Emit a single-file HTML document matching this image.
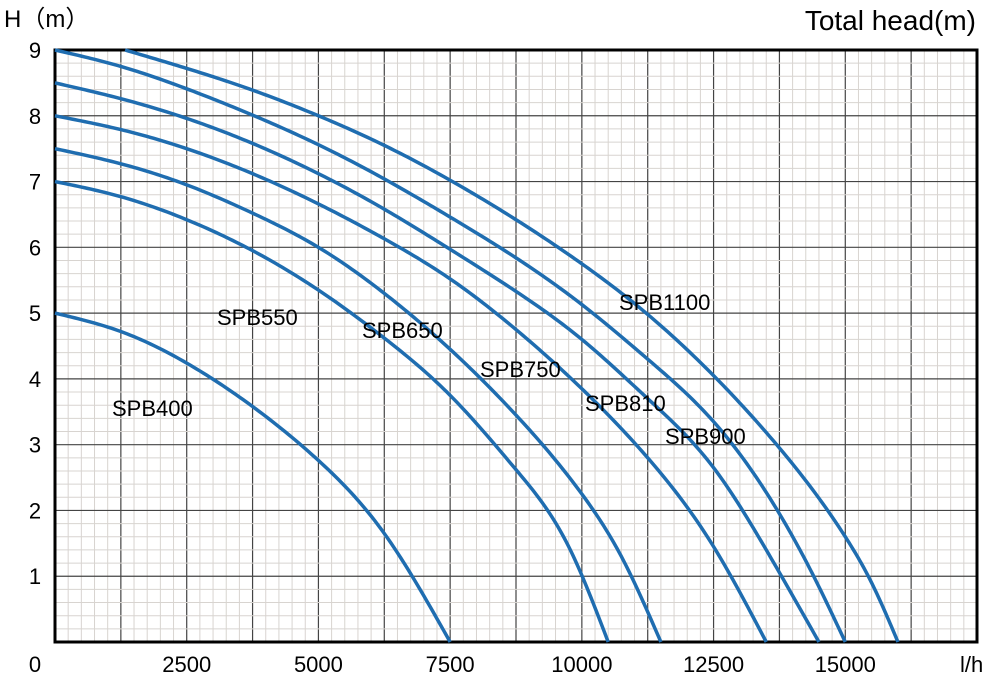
<!DOCTYPE html>
<html><head><meta charset="utf-8"><style>
body{margin:0;background:#fff;width:1000px;height:684px;overflow:hidden}
svg{display:block;font-family:"Liberation Sans",Arial,sans-serif}
</style></head><body>
<svg id="c" width="1000" height="684"></svg>
<script>
const xTicks=[0,2500,5000,7500,10000,12500,15000];
const yTicks=[1,2,3,4,5,6,7,8,9];
const seriesNames=["SPB400","SPB550","SPB650","SPB750","SPB810","SPB900","SPB1100"];
const q400=[0,1250,2500,3750,5000,6250,7500];
const h400=[5,4.72,4.24,3.58,2.76,1.65,0];
const q550=[0,1250,2500,3750,5000,6250,7500,8750,9750,10500];
const h550=[7,6.77,6.42,5.95,5.35,4.62,3.75,2.62,1.45,0];
const q650=[0,1250,2500,3750,5000,6250,7500,8750,10000,10750,11500];
const h650=[7.5,7.27,6.95,6.52,6.0,5.3,4.45,3.45,2.25,1.3,0];
const q750=[0,1250,2500,3750,5000,6250,7500,8750,10000,11250,12500,13500];
const h750=[8,7.79,7.5,7.12,6.66,6.13,5.52,4.75,3.85,2.8,1.45,0];
const q810=[0,1250,2500,3750,5000,6250,7500,8750,10000,11250,12500,13500,14500];
const h810=[8.5,8.26,7.96,7.58,7.12,6.58,5.97,5.33,4.6,3.7,2.65,1.4,0];
const q900=[0,1250,2500,3750,5000,6250,7500,8750,10000,11250,12500,13750,14400,15000];
const h900=[9,8.75,8.41,8.01,7.56,7.04,6.46,5.84,5.13,4.3,3.35,1.95,1.0,0];
const q1100=[1330,2500,3750,5000,6250,7500,8750,10000,11250,12500,13750,15000,15500,16000];
const h1100=[9,8.72,8.39,8.0,7.55,7.02,6.42,5.75,4.98,4.05,2.95,1.6,0.9,0];
const labels=[[112,408],[217,317],[362,330],[480,369],[585,403],[665,436],[619,302]];
const NS="http://www.w3.org/2000/svg";
const svg=document.getElementById('c');
const X0=55,X1=977,Y0=642,Y1=50;
const sx=v=>X0+v*(X1-X0)/17500;
const sy=v=>Y0-v*(Y0-Y1)/9;
function mk(t,a,p){const e=document.createElementNS(NS,t);for(const k in a)e.setAttribute(k,a[k]);(p||svg).appendChild(e);return e;}
const grid=mk('g',{});


for(let i=0;i<=70;i++){const x=sx(i*250);mk('line',{x1:x,x2:x,y1:Y1,y2:Y0,stroke:i%5?'#d8d4d0':'#444','stroke-width':i%5?1:1.2},grid);}
for(let i=0;i<=45;i++){const y=sy(i*0.2);mk('line',{x1:X0,x2:X1,y1:y,y2:y,stroke:i%5?'#d8d4d0':'#444','stroke-width':i%5?1:1.2},grid);}
const frame=mk('rect',{x:X0,y:Y1,width:X1-X0,height:Y0-Y1,fill:'none',stroke:'#000','stroke-width':3});


xTicks.forEach(v=>{const t=mk('text',{x:v===0?35:sx(v),y:672,'font-size':22,'text-anchor':'middle'});t.textContent=v;

});
yTicks.forEach(v=>{const t=mk('text',{x:35,y:sy(v)+8,'font-size':22,'text-anchor':'middle'});t.textContent=v;

});
let t=mk('text',{x:960,y:672,'font-size':22});t.textContent='l/h';


t=mk('text',{x:4,y:27,'font-size':24});t.textContent='H（m）';


t=mk('text',{x:976,y:30,'font-size':28,'text-anchor':'end'});t.textContent='Total head(m)';


function path(xs,ys){
  const n=xs.length,h=[],al=[0],l=[1],mu=[0],z=[0],c=new Array(n).fill(0),b=[],d=[];
  for(let i=0;i<n-1;i++)h.push(xs[i+1]-xs[i]);
  for(let i=1;i<n-1;i++)al.push(3/h[i]*(ys[i+1]-ys[i])-3/h[i-1]*(ys[i]-ys[i-1]));
  for(let i=1;i<n-1;i++){l[i]=2*(xs[i+1]-xs[i-1])-h[i-1]*mu[i-1];mu[i]=h[i]/l[i];z[i]=(al[i]-h[i-1]*z[i-1])/l[i];}
  for(let j=n-2;j>=0;j--){c[j]=(j===0?0:z[j]-mu[j]*c[j+1]);b[j]=(ys[j+1]-ys[j])/h[j]-h[j]*(c[j+1]+2*c[j])/3;d[j]=(c[j+1]-c[j])/(3*h[j]);}
  let pts=[];
  for(let j=0;j<n-1;j++){for(let k=0;k<20;k++){const dx=h[j]*k/20;
    pts.push(sx(xs[j]+dx).toFixed(2)+','+sy(ys[j]+b[j]*dx+c[j]*dx*dx+d[j]*dx*dx*dx).toFixed(2));}}
  pts.push(sx(xs[n-1]).toFixed(2)+','+sy(ys[n-1]).toFixed(2));
  return 'M'+pts.join(' L');}
const data=[[q400,h400],[q550,h550],[q650,h650],[q750,h750],[q810,h810],[q900,h900],[q1100,h1100]];
data.forEach((s,i)=>{const p=mk('path',{d:path(s[0],s[1]),fill:'none',stroke:'#1f6db0','stroke-width':3.5,'stroke-linejoin':'round'});


const l=mk('text',{x:labels[i][0],y:labels[i][1]+8,'font-size':22});l.textContent=seriesNames[i];

});
</script>
</body></html>
